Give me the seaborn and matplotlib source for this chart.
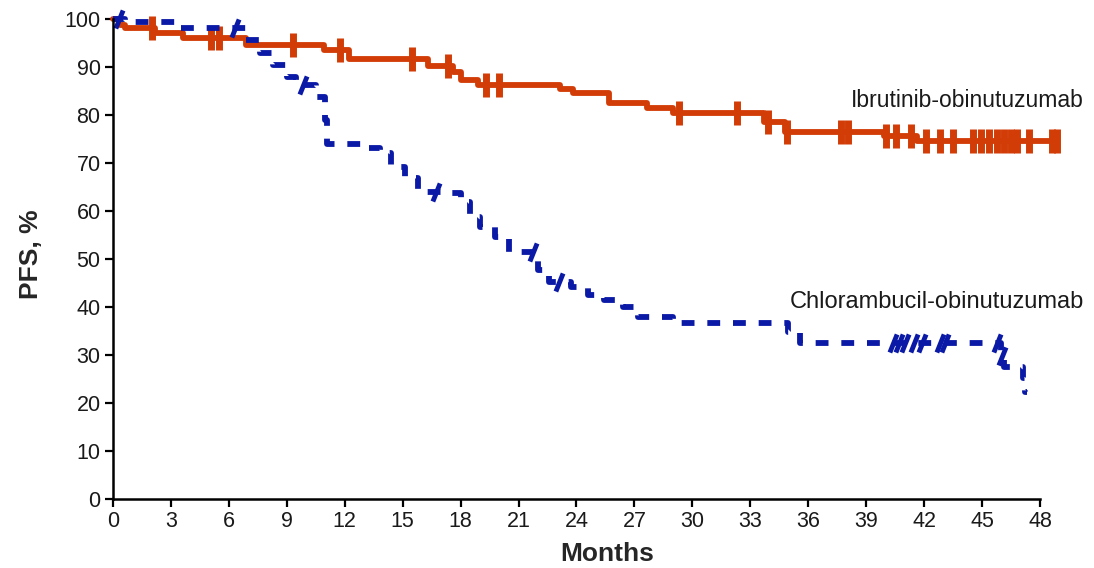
import numpy as np
import pandas as pd
import matplotlib
matplotlib.use("Agg")
import matplotlib.pyplot as plt
from matplotlib.path import Path
import seaborn as sns

# Kaplan-Meier steps (months, PFS %)
ibru_t = [0, 0.35, 0.6, 2.2, 3.6, 6.9, 10.9, 12.2, 16.3, 17.6, 18.0, 18.9,
          23.15, 23.8, 25.7, 27.65, 29.0, 33.7, 34.8, 39.9, 41.65, 48.9]
ibru_s = [100, 98.7, 98.1, 97.0, 96.0, 94.6, 93.5, 91.7, 90.3, 89.0, 87.3, 86.3,
          85.4, 84.5, 82.4, 81.5, 80.4, 78.6, 76.5, 75.7, 74.6, 74.6]
ibru_cens = [2.0, 5.1, 5.5, 9.3, 11.75, 15.5, 17.35, 19.3, 20.0, 29.3, 32.3,
             33.9, 34.9, 37.7, 38.05, 40.05, 40.55, 41.3, 42.1, 42.8, 43.5,
             44.55, 44.95, 45.35, 45.75, 46.15, 46.5, 46.8, 47.45, 48.6, 48.9]

chlor_t = [0, 0.6, 3.5, 6.9, 7.6, 8.3, 9.0, 9.5, 10.5, 11.0, 11.1, 12.9, 13.8,
           14.4, 15.1, 15.8, 17.0, 18.0, 18.5, 19.0, 19.8, 20.5, 22.0, 22.6,
           23.7, 24.6, 25.4, 26.4, 27.2, 29.0, 34.95, 35.6, 46.0, 46.15, 47.1,
           47.2, 47.35]
chlor_s = [100, 99.3, 98.1, 95.6, 92.9, 90.4, 88.0, 86.3, 83.8, 79.0, 74.0,
           73.1, 72.0, 69.2, 66.9, 64.0, 63.8, 61.8, 58.7, 56.6, 54.6, 51.5,
           47.7, 45.2, 44.2, 42.5, 41.5, 40.0, 37.9, 36.6, 34.8, 32.6, 29.8,
           27.5, 25.3, 22.3, 22.3]
chlor_cens = [0.3, 6.3, 9.85, 16.75, 21.75, 23.1, 40.4, 40.7, 41.0, 41.5,
              41.9, 42.8, 43.1, 45.75, 46.05]

x_ticks = list(range(0, 49, 3))
y_ticks = list(range(0, 101, 10))

red = "#D23C06"
blue = "#0A1AA6"


def step_value(times, surv, t):
    """Valeur de la courbe en escalier au temps t."""
    idx = np.searchsorted(times, t, side="right") - 1
    return np.asarray(surv)[idx]


sns.set_style("ticks")
plt.rcParams["font.family"] = ["Liberation Sans", "DejaVu Sans"]

fig = plt.figure(figsize=(10.94, 5.68), dpi=100)
ax = fig.add_axes([0.1033, 0.1215, 0.8473, 0.8451])

df_ibru = pd.DataFrame({"t": ibru_t, "s": ibru_s})
df_chlor = pd.DataFrame({"t": chlor_t, "s": chlor_s})

sns.lineplot(data=df_ibru, x="t", y="s", ax=ax, color=red, lw=4.2,
             drawstyle="steps-post", estimator=None)
ax.plot(ibru_cens, step_value(ibru_t, ibru_s, ibru_cens), ls="none",
        marker="|", ms=17, mew=5, color=red)

sns.lineplot(data=df_chlor, x="t", y="s", ax=ax, color=blue, lw=4.2,
             drawstyle="steps-post", estimator=None, linestyle=(0, (2.2, 2.2)))
slash = Path([(-0.4, -1), (0.4, 1)], [Path.MOVETO, Path.LINETO])
ax.plot(chlor_cens, step_value(chlor_t, chlor_s, chlor_cens), ls="none",
        marker=slash, ms=13, mew=3.5, color=blue)

for line in ax.lines:
    line.set_clip_on(False)

ax.set_xlim(0, 48)
ax.set_ylim(0, 100)
ax.set_xticks(x_ticks)
ax.set_yticks(y_ticks)
ax.tick_params(axis="both", labelsize=15.5, length=6, width=1.6,
               direction="out", colors="black", labelcolor="#1a1a1a", pad=3)
sns.despine(ax=ax)
for sp in ["left", "bottom"]:
    ax.spines[sp].set_linewidth(1.8)
    ax.spines[sp].set_color("black")

ax.set_xlabel("Months", fontsize=19, fontweight="bold")
ax.set_ylabel("PFS, %", fontsize=19, fontweight="bold")
ax.xaxis.set_label_coords(0.5335, -0.09)
ax.yaxis.set_label_coords(-0.076, 0.51)

ax.text(38.2, 83.1, "Ibrutinib-obinutuzumab", fontsize=16.5, va="center",
        ha="left", color="#1a1a1a")
ax.text(35.05, 41.0, "Chlorambucil-obinutuzumab", fontsize=17, va="center",
        ha="left", color="#1a1a1a")

fig.savefig("out.png", dpi=100)
